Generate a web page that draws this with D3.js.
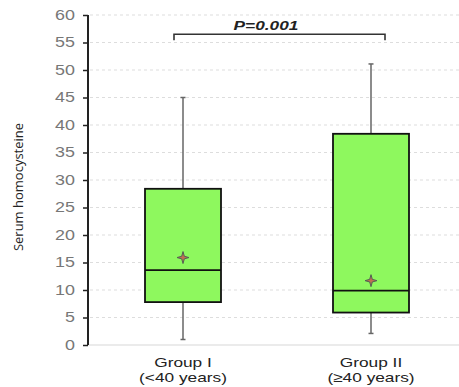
<!DOCTYPE html>
<html><head><meta charset="utf-8">
<script src="https://cdn.jsdelivr.net/npm/d3@7"></script>
<style>body{margin:0;background:#fff}</style>
</head><body>
<svg id="c" width="459" height="387"></svg>
<script>
const groups = ["Group I", "Group II"];
const groupSub = ["(<40 years)", "(≥40 years)"];
const whiskerLow = [1.0, 2.1];
const q1 = [7.8, 5.9];
const median = [13.6, 9.9];
const q3 = [28.4, 38.4];
const whiskerHigh = [45.0, 51.1];
const means = [15.9, 11.7];
const yTicks = [0,5,10,15,20,25,30,35,40,45,50,55,60];
const pLabel = "P=0.001";
const pBracketY = 56.5;

const svg = d3.select("#c");
const x0 = 88, xEnd = 459;
const y = d3.scaleLinear().domain([0,60]).range([345,15]);
const x = d3.scaleLinear().domain([0,1]).range([183,371]);
const boxW = 76;
const SX = 1.28; // horizontal stretch of the reference text

// gridlines
svg.append("g").selectAll("line").data(yTicks.filter(d=>d>0)).join("line")
  .attr("x1",x0+2).attr("x2",xEnd).attr("y1",d=>y(d)).attr("y2",d=>y(d))
  .attr("stroke","#ddd").attr("stroke-width",1).attr("stroke-dasharray","3,3");
svg.append("line").attr("x1",x0).attr("x2",xEnd).attr("y1",y(0)).attr("y2",y(0))
  .attr("stroke","#e4e4e4").attr("stroke-width",1.5);

// y axis
const ax = svg.append("g").attr("transform",`translate(${x0},0)`)
  .call(d3.axisLeft(y).tickValues(yTicks).tickSize(5).tickPadding(8));
ax.select(".domain").attr("stroke","#222").attr("stroke-width",2).attr("d",`M0,${y(60)}V${y(0)}`);
ax.selectAll(".tick line").attr("stroke","#222").attr("stroke-width",1.5);
ax.selectAll(".tick text").attr("fill","#777").attr("x",-13/SX).attr("transform",`scale(${SX},1)`)
  .style("font-family","Liberation Sans, Arial").style("font-size","14px");

svg.append("text").attr("transform",`translate(23,187) rotate(-90)`)
  .attr("text-anchor","middle").style("font-family","Open Sans").style("font-size","13px")
  .attr("fill","#222").text("Serum homocysteine");

function stretchedText(cx, cy, str, size, extra){
  const t = svg.append("text").attr("transform",`translate(${cx},${cy}) scale(${SX},1)`)
    .attr("text-anchor","middle").style("font-family","Liberation Sans, Arial")
    .style("font-size",size+"px").attr("fill","#222").text(str);
  if(extra) extra(t);
  return t;
}

// boxes
const g = svg.append("g");
groups.forEach((name,i)=>{
  const cx = x(i);
  g.append("line").attr("x1",cx).attr("x2",cx).attr("y1",y(whiskerHigh[i])).attr("y2",y(q3[i]))
    .attr("stroke","#666").attr("stroke-width",1.5);
  g.append("line").attr("x1",cx).attr("x2",cx).attr("y1",y(q1[i])).attr("y2",y(whiskerLow[i]))
    .attr("stroke","#666").attr("stroke-width",1.5);
  [whiskerHigh[i],whiskerLow[i]].forEach(v=>{
    g.append("line").attr("x1",cx-2.5).attr("x2",cx+2.5).attr("y1",y(v)).attr("y2",y(v))
      .attr("stroke","#666").attr("stroke-width",1.5);
  });
  g.append("rect").attr("x",cx-boxW/2).attr("width",boxW).attr("y",y(q3[i])).attr("height",y(q1[i])-y(q3[i]))
    .attr("fill","#8ef85e").attr("stroke","#111").attr("stroke-width",1.8);
  g.append("line").attr("x1",cx-boxW/2).attr("x2",cx+boxW/2).attr("y1",y(median[i])).attr("y2",y(median[i]))
    .attr("stroke","#111").attr("stroke-width",1.8);
  const my = y(means[i]);
  const s=6, t=1.3;
  g.append("path").attr("d",`M${cx},${my-s} L${cx+t},${my-t} L${cx+s},${my} L${cx+t},${my+t} L${cx},${my+s} L${cx-t},${my+t} L${cx-s},${my} L${cx-t},${my-t}Z`)
    .attr("fill","#c07050").attr("stroke","#556055").attr("stroke-width",1);
  stretchedText(cx, 367, name, 13.5);
  stretchedText(cx, 382, groupSub[i], 13.5);
});

// bracket
const bl = x(0)-9, br = x(1)+14, by = y(pBracketY);
svg.append("path").attr("d",`M${bl},${by+6} V${by} H${br} V${by+6}`)
  .attr("fill","none").attr("stroke","#333").attr("stroke-width",1.6);
stretchedText(266, by-4, pLabel, 13.5, t=>t.style("font-weight","bold").style("font-style","italic"));
</script>
</body></html>
